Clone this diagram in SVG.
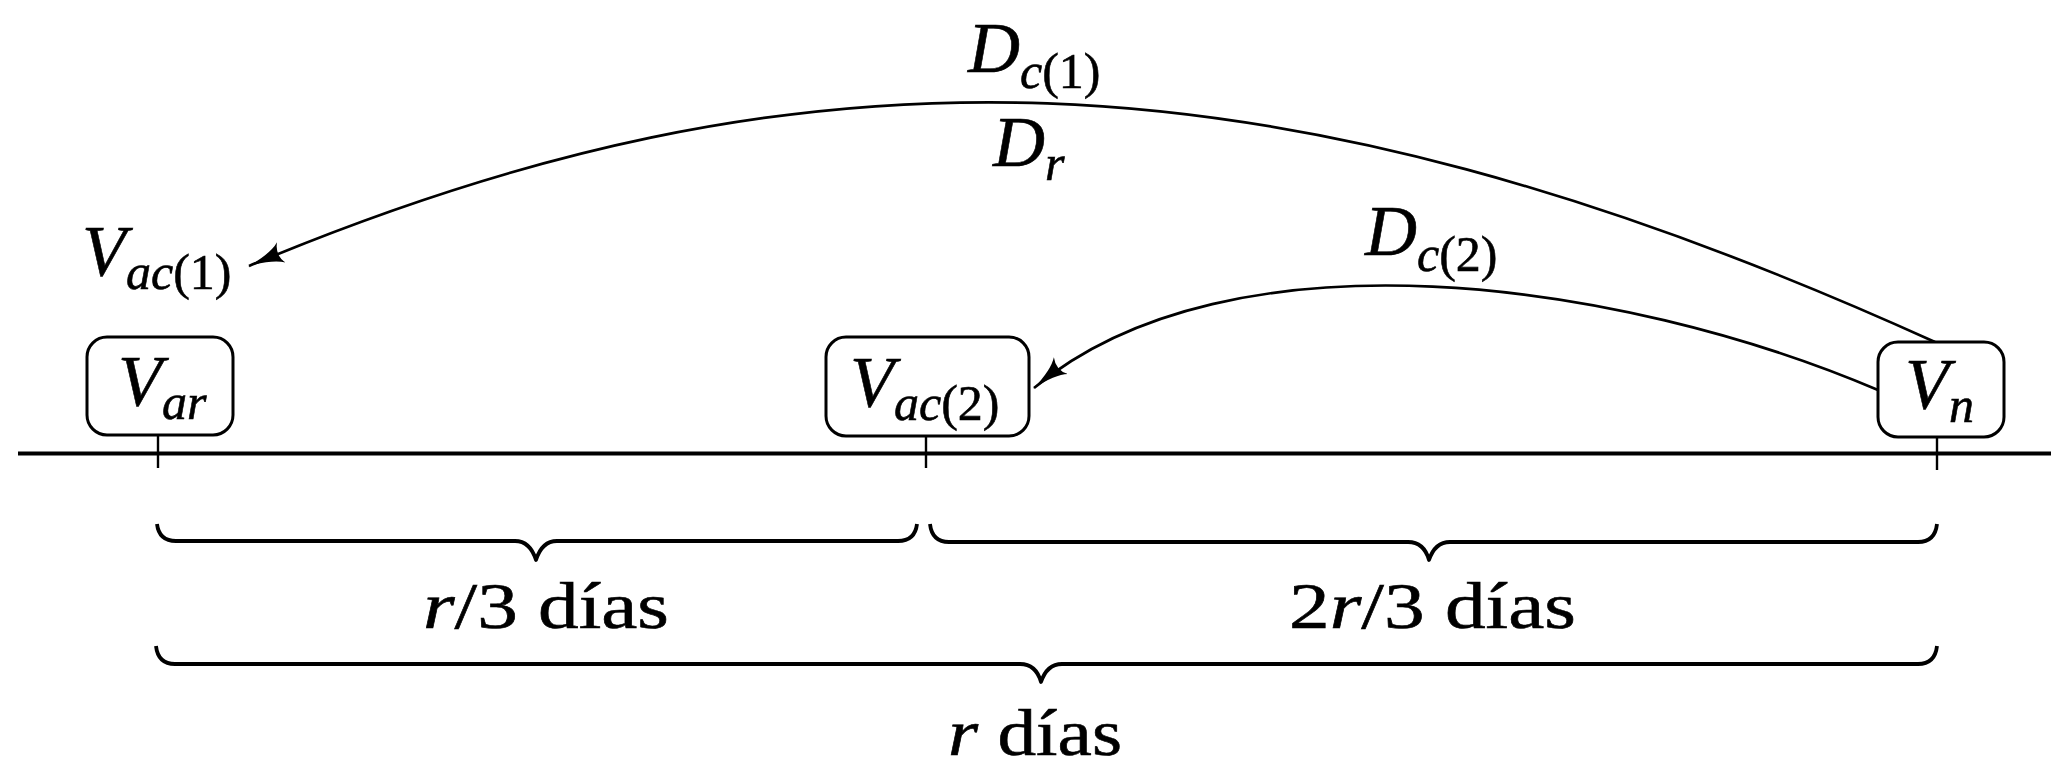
<svg xmlns="http://www.w3.org/2000/svg" width="2051" height="766" viewBox="0 0 2051 766">
<style>
.m{font-family:"Liberation Serif",serif;font-style:italic;font-size:72px;fill:#000;stroke:#000;stroke-width:0.6}
.s{font-size:50px}
.u{font-style:normal}
.t{font-family:"Liberation Serif",serif;font-size:66px;fill:#000;stroke:#000;stroke-width:0.6}
.i{font-style:italic}
.box{fill:#fff;stroke:#000;stroke-width:3}
.tick{stroke:#000;stroke-width:2.4}
.edge{fill:none;stroke:#000;stroke-width:2.7}
.brace{fill:none;stroke:#000;stroke-width:3.8;stroke-linejoin:round}
</style>
<defs>
<marker id="ah" viewBox="0 0 36 24" refX="35" refY="12" markerWidth="36" markerHeight="24" markerUnits="userSpaceOnUse" orient="auto">
<path d="M0,1 Q10,9 36,12 Q10,15 0,23 Q7,12 0,1 Z" fill="#000"/>
</marker>
</defs>
<rect width="2051" height="766" fill="#fff"/>
<g id="axis">
<line x1="18" y1="453.5" x2="2051" y2="453.5" stroke="#000" stroke-width="4"/>
<line class="tick" x1="158" y1="435" x2="158" y2="468"/>
<line class="tick" x1="926" y1="436" x2="926" y2="468"/>
<line class="tick" x1="1937" y1="437" x2="1937" y2="470"/>
</g>
<g id="connectors">
<path class="edge" d="M1935,342 C1265,38 800,35 249,266" marker-end="url(#ah)"/>
<path class="edge" d="M1878,390 C1620,280 1230,225 1034,388" marker-end="url(#ah)"/>
</g>
<g id="node-var">
<rect class="box" x="87" y="337" width="146" height="98" rx="20"/>
<text class="m" x="118" y="405">V<tspan class="s" dy="14">ar</tspan></text>
</g>
<g id="node-vac2">
<rect class="box" x="826" y="337" width="203" height="99" rx="20"/>
<text class="m" x="850" y="406">V<tspan class="s" dy="14">ac</tspan><tspan class="s u">(2)</tspan></text>
</g>
<g id="node-vn">
<rect class="box" x="1878" y="342" width="126" height="95" rx="20"/>
<text class="m" x="1905" y="408">V<tspan class="s" dy="14">n</tspan></text>
</g>
<g id="label-vac1">
<text class="m" x="82" y="275">V<tspan class="s" dy="14">ac</tspan><tspan class="s u">(1)</tspan></text>
</g>
<g id="label-dc1">
<text class="m" x="968" y="72">D<tspan class="s" dy="16">c</tspan><tspan class="s u">(1)</tspan></text>
</g>
<g id="label-dr">
<text class="m" x="993" y="166">D<tspan class="s" dy="14">r</tspan></text>
</g>
<g id="label-dc2">
<text class="m" x="1365" y="255">D<tspan class="s" dy="16">c</tspan><tspan class="s u">(2)</tspan></text>
</g>
<g id="braces">
<path class="brace" d="M157,524 Q159,541 176,541 H515 Q530,541 536,560 Q542,541 557,541 H898 Q915,541 917,524"/>
<path class="brace" d="M930,524 Q932,542 949,542 H1408 Q1424,542 1429,560 Q1435,542 1450,542 H1918 Q1935,542 1937,524"/>
<path class="brace" d="M156,646 Q158,664 175,664 H1020 Q1036,664 1041,682 Q1047,664 1062,664 H1918 Q1935,664 1937,646"/>
</g>
<g id="brace-labels">
<text class="t" x="423" y="628" textLength="246" lengthAdjust="spacingAndGlyphs"><tspan class="i">r</tspan>/3 días</text>
<text class="t" x="1289" y="628" textLength="287" lengthAdjust="spacingAndGlyphs">2<tspan class="i">r</tspan>/3 días</text>
<text class="t" x="948" y="755" textLength="174" lengthAdjust="spacingAndGlyphs"><tspan class="i">r</tspan> días</text>
</g>
</svg>
